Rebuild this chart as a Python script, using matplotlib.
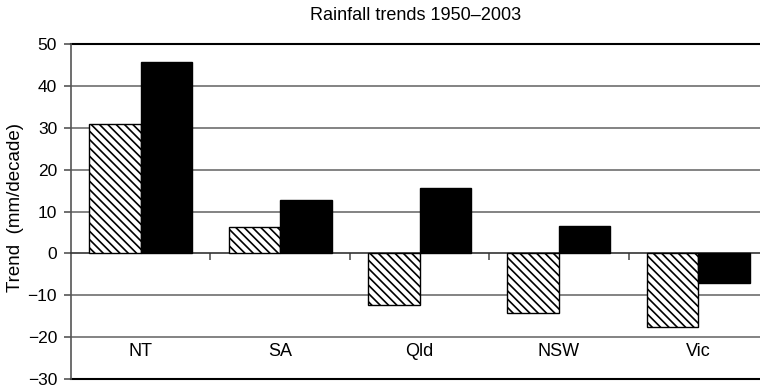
import matplotlib
matplotlib.use("Agg")
import matplotlib.pyplot as plt
import numpy as np

categories = ["NT", "SA", "Qld", "NSW", "Vic"]
series_hatched = [31.0, 6.2, -12.4, -14.3, -17.5]
series_black = [45.8, 12.8, 15.5, 6.6, -7.0]
yticks = [-30, -20, -10, 0, 10, 20, 30, 40, 50]
title = "Rainfall trends 1950\u20132003"
ylabel = "Trend  (mm/decade)"

plt.rcParams['font.family'] = ['Liberation Sans', 'DejaVu Sans']
plt.rcParams['hatch.linewidth'] = 1.2

W, H = 760, 387
fig = plt.figure(figsize=(W / 100, H / 100), dpi=100)
left, right, top, bottom = 71, 768, 44, 379
ax = fig.add_axes([left / W, 1 - bottom / H, (right - left) / W, (bottom - top) / H])

x = np.arange(len(categories))
bw = 0.37
ax.bar(x - bw / 2, series_hatched, width=bw, facecolor='white', edgecolor='black',
       hatch='\\\\\\\\', linewidth=1.0, zorder=3)
ax.bar(x + bw / 2, series_black, width=bw, facecolor='black', edgecolor='black',
       linewidth=1.0, zorder=3)

ax.set_xlim(-0.5, len(categories) - 0.5)
ax.set_ylim(yticks[0], yticks[-1])
ax.set_yticks(yticks)
ax.set_yticklabels([str(t).replace('-', '\u2212') for t in yticks], fontsize=12.5)

for t in yticks:
    if t in (yticks[0], yticks[-1]):
        ax.axhline(t, color='black', lw=1.5, zorder=2, clip_on=False)
    elif t != 0:
        ax.axhline(t, color='#6e6e6e', lw=1.2, zorder=1)

for s in ['top', 'right']:
    ax.spines[s].set_visible(False)
ax.spines['left'].set_color('#555555')
ax.spines['left'].set_linewidth(1.2)
ax.spines['bottom'].set_position(('data', 0))
ax.spines['bottom'].set_color('#333333')
ax.spines['bottom'].set_linewidth(1.2)
ax.set_xticks(x[:-1] + 0.5)
ax.set_xticklabels([])
ax.tick_params(axis='x', direction='out', length=5, width=1.2, color='#555555')
ax.tick_params(axis='y', direction='out', length=5, width=1.2, color='#555555', pad=5)

for xi, c in zip(x, categories):
    ax.text(xi, -21.3, c, ha='center', va='top', fontsize=13)

ax.set_ylabel(ylabel, fontsize=13.5)
ax.yaxis.set_label_coords((24 - left) / (right - left), (bottom - 208) / (bottom - top))
fig.text(416 / W, 1 - 15 / H, title, ha='center', va='center', fontsize=13)

fig.savefig("out.png", dpi=100)
